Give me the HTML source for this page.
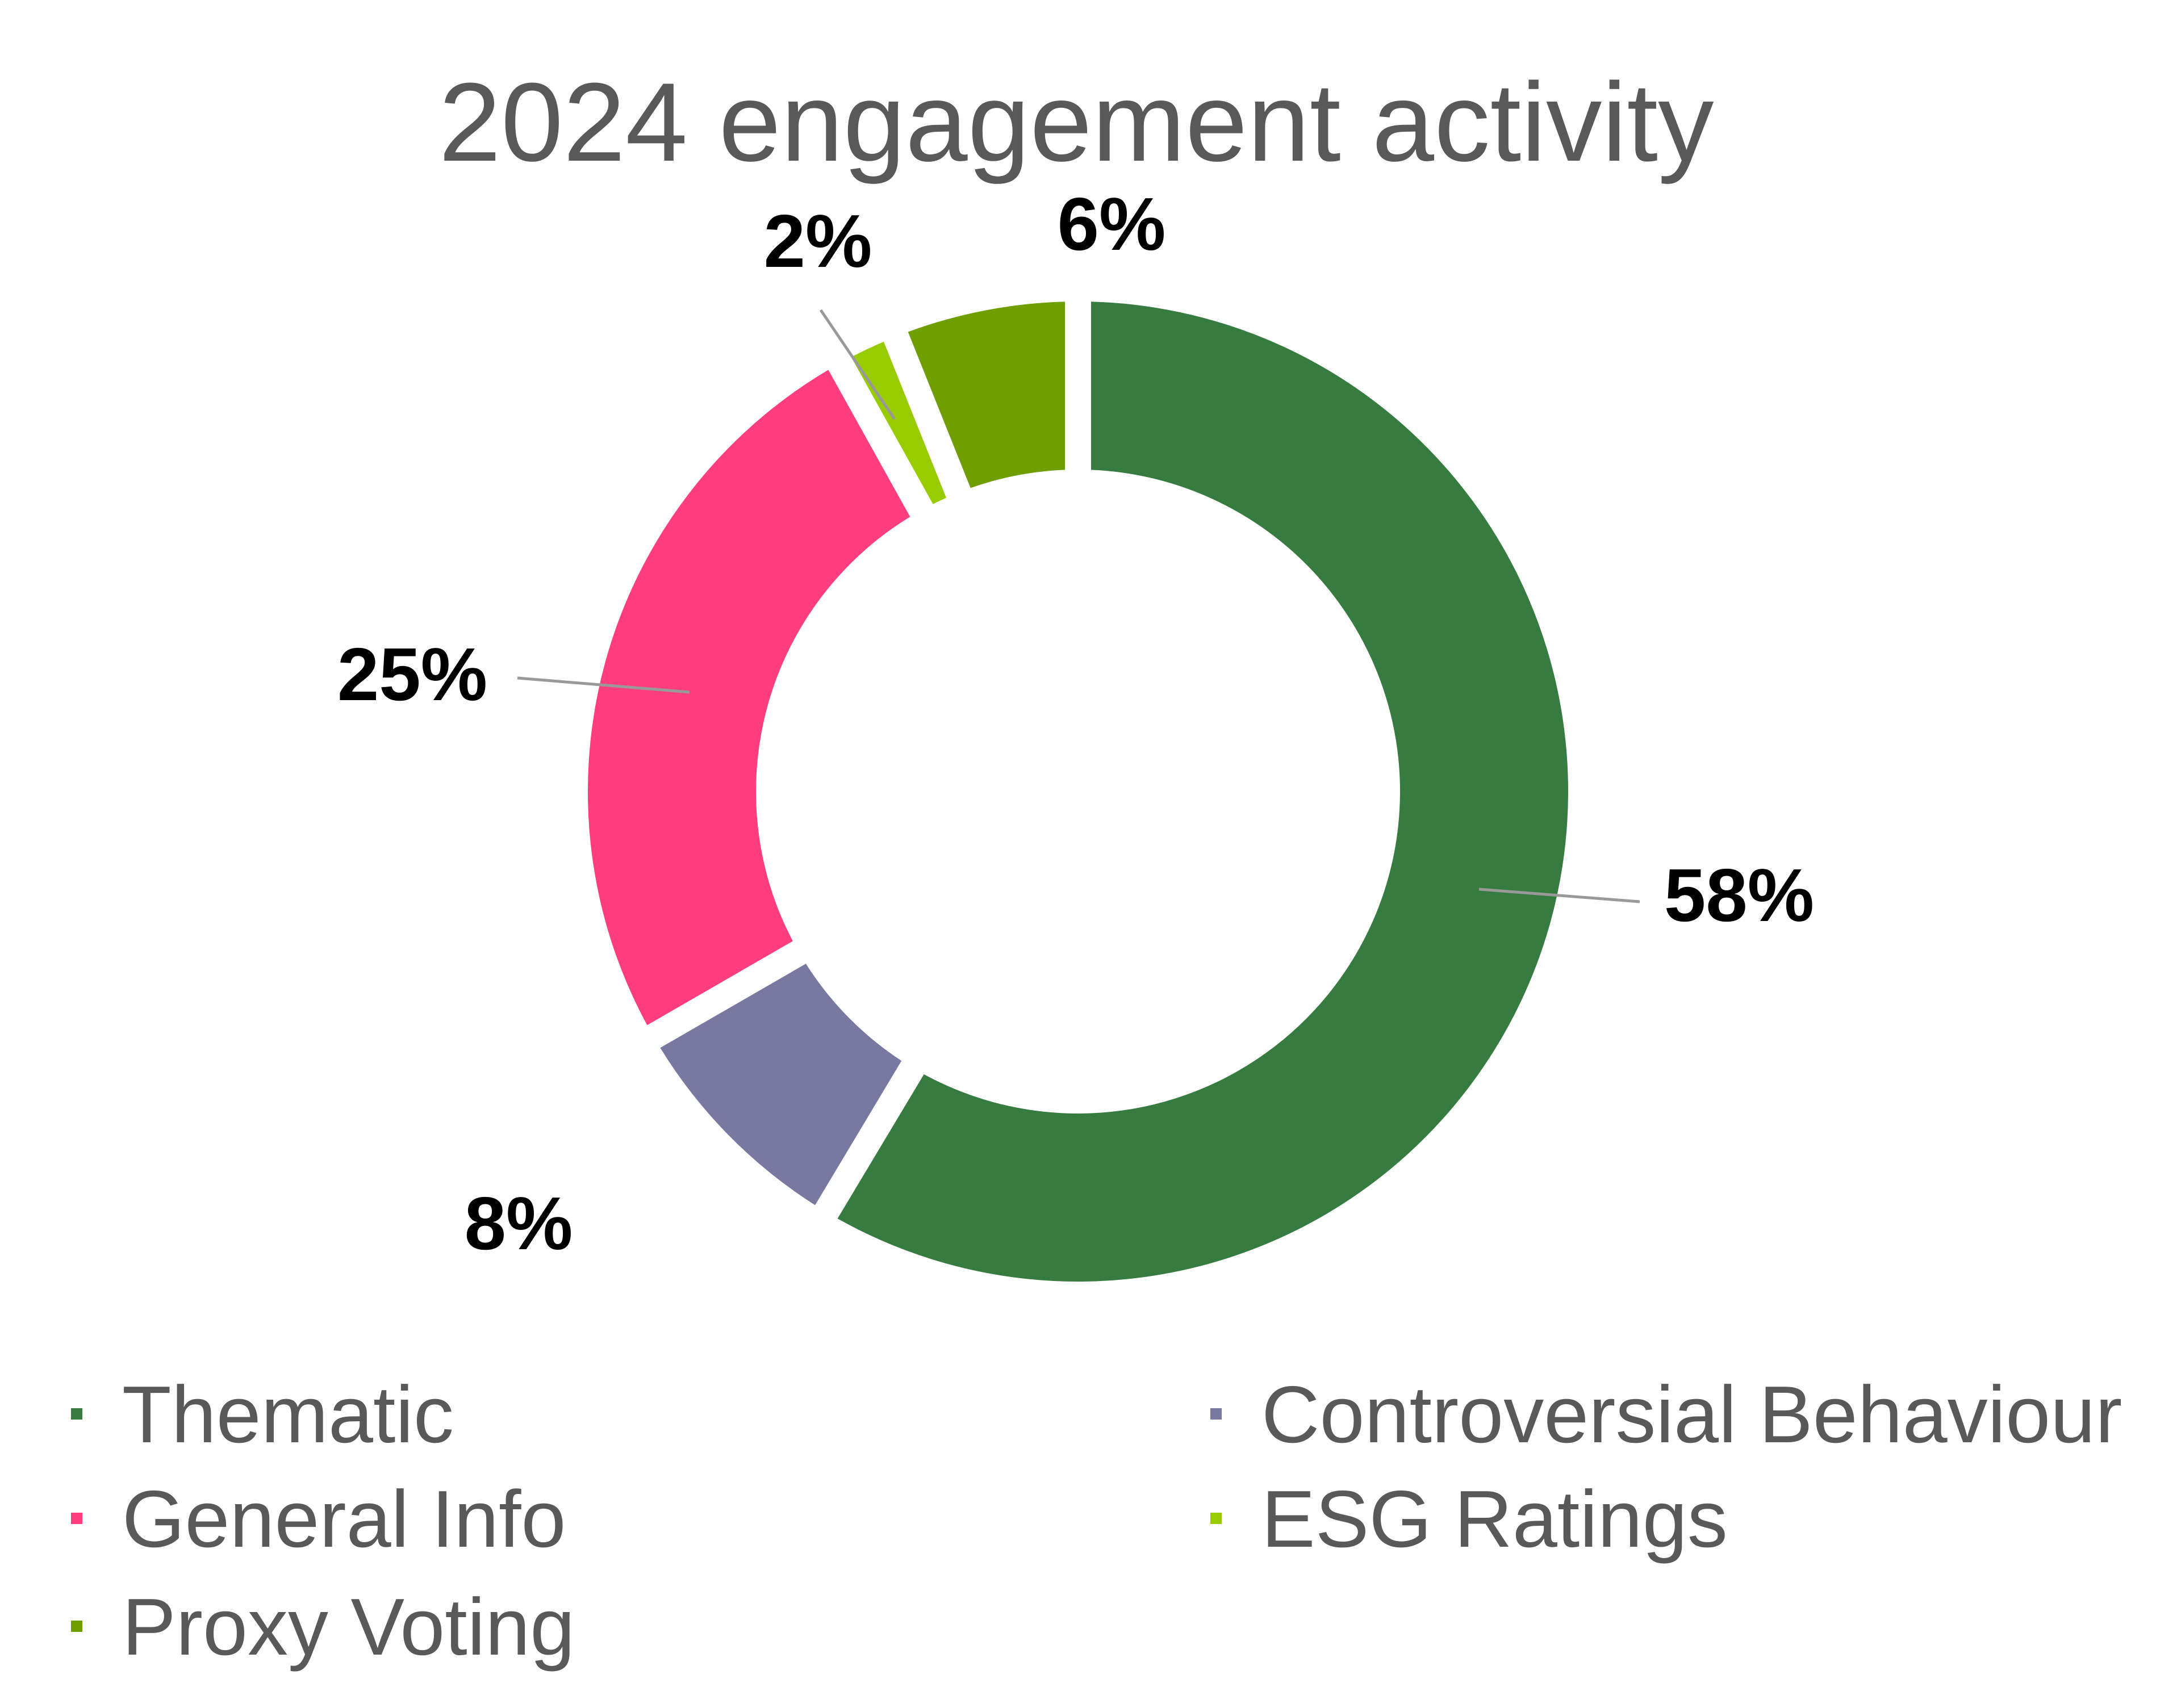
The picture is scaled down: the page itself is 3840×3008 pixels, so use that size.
<!DOCTYPE html>
<html><head><meta charset="utf-8"><style>
html,body{margin:0;padding:0;background:#fff;}
svg{display:block;font-family:"Liberation Sans",sans-serif;}
</style></head><body>
<svg id="chart" width="3840" height="3008" viewBox="0 0 3840 3008">
<text x="1895" y="283" text-anchor="middle" font-size="197" fill="#595959">2024 engagement activity</text>
<g id="slices"></g>
<g id="labels"></g>
<g id="legend"></g>
</svg>
<script>
const categories = ["Thematic","Controversial Behaviour","General Info","ESG Ratings","Proxy Voting"];
const values = [58,8,25,2,6];
const colors = ["#367B3F","#7878A0","#FF3D7F","#99CC00","#6E9E00"];
const cx=1898, cy=1394, R=886, r=544;
const NS="http://www.w3.org/2000/svg";
const total = values.reduce((a,b)=>a+b,0);
function pt(rad,a){return [cx+rad*Math.sin(a), cy-rad*Math.cos(a)];}
const gS=document.getElementById('slices'), gL=document.getElementById('labels'), gG=document.getElementById('legend');
let acc=0;
values.forEach((v,i)=>{
  const a0=acc/total*2*Math.PI; acc+=v; const a1=acc/total*2*Math.PI;
  const large=(a1-a0)>Math.PI?1:0;
  const [x0,y0]=pt(R,a0),[x1,y1]=pt(R,a1),[x2,y2]=pt(r,a1),[x3,y3]=pt(r,a0);
  const p=document.createElementNS(NS,'path');
  p.setAttribute('d',`M${x0},${y0}A${R},${R} 0 ${large} 1 ${x1},${y1}L${x2},${y2}A${r},${r} 0 ${large} 0 ${x3},${y3}Z`);
  p.setAttribute('fill',colors[i]); p.setAttribute('stroke','#fff'); p.setAttribute('stroke-width','46');
  
  
  gS.appendChild(p);
});
const labelPos=[[3062,1576],[913,2154],[726,1187],[1440,424],[1957,394]];
const leaders=[[2604,1566,2887,1588],null,[911,1194,1214,1219],[1445,546,1575,738],null];
labelPos.forEach((lp,i)=>{
  if(leaders[i]){
    const l=document.createElementNS(NS,'line');
    const [a,b,c,d]=leaders[i];
    l.setAttribute('x1',a);l.setAttribute('y1',b);l.setAttribute('x2',c);l.setAttribute('y2',d);
    l.setAttribute('stroke','#999');l.setAttribute('stroke-width','5');
    
    
    gL.appendChild(l);
  }
  const t=document.createElementNS(NS,'text');
  t.setAttribute('x',lp[0]);t.setAttribute('y',lp[1]+46);
  t.setAttribute('text-anchor','middle');t.setAttribute('font-size','132');t.setAttribute('font-weight','bold');t.setAttribute('fill','#000');
  t.textContent=values[i]+'%';
  
  
  gL.appendChild(t);
});
const legPos=[[135,2490],[2141,2490],[135,2674],[2141,2674],[135,2864]];
categories.forEach((c,i)=>{
  const [x,y]=legPos[i];
  const g=document.createElementNS(NS,'g');
  
  
  const m=document.createElementNS(NS,'rect');
  m.setAttribute('x',x-10);m.setAttribute('y',y-10);m.setAttribute('width',20);m.setAttribute('height',20);m.setAttribute('fill',colors[i]);
  
  
  const t=document.createElementNS(NS,'text');
  t.setAttribute('x',x+80);t.setAttribute('y',y+50);t.setAttribute('font-size','142');t.setAttribute('fill','#595959');
  t.textContent=c;
  
  
  g.appendChild(m);g.appendChild(t);gG.appendChild(g);
});
</script>
</body></html>
